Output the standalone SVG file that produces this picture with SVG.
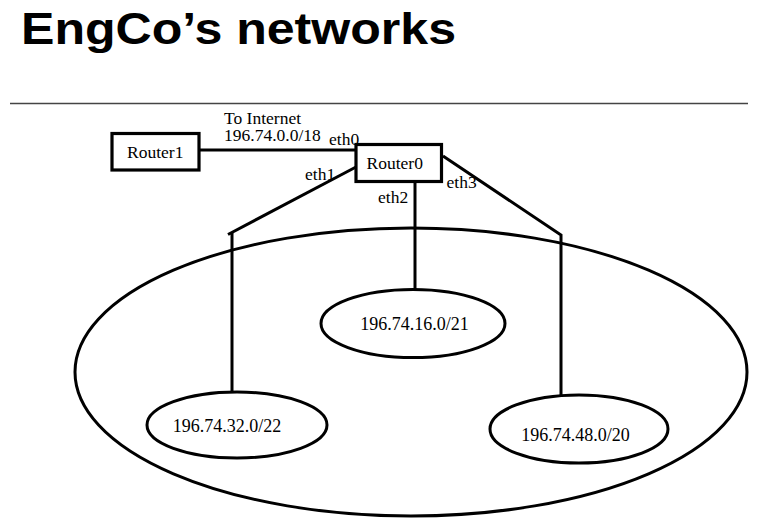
<svg xmlns="http://www.w3.org/2000/svg" width="763" height="520" viewBox="0 0 763 520">
  <style>
    .title { font-family: "Liberation Sans", Arial, sans-serif; font-weight: bold; font-size: 45px; fill: #000; }
    .lbl { font-family: "Liberation Serif", "Times New Roman", serif; font-size: 17.5px; fill: #000; }
    .net { font-family: "Liberation Serif", "Times New Roman", serif; font-size: 18px; fill: #000; }
    .box { fill: #fff; stroke: #000; stroke-width: 3.2; }
    .oval { fill: none; stroke: #000; stroke-width: 3; }
    .wire { fill: none; stroke: #000; stroke-width: 3; }
  </style>
  <rect width="763" height="520" fill="#fff"/>

  <!-- heading and rule -->
  <text class="title" x="21" y="44" textLength="435" lengthAdjust="spacingAndGlyphs">EngCo’s networks</text>
  <line x1="10" y1="103.5" x2="748" y2="103.5" stroke="#444" stroke-width="1.6"/>

  <!-- enclosing network -->
  <g id="engco-net">
    <ellipse class="oval" cx="411" cy="372" rx="336" ry="144" stroke-width="2.6"/>
  </g>

  <!-- connectors -->
  <g id="connectors">
    <line class="wire" x1="200" y1="150" x2="356" y2="150"/>
    <line class="wire" x1="356" y1="167" x2="228" y2="234.5"/>
    <line class="wire" x1="232" y1="233" x2="232" y2="393"/>
    <line class="wire" x1="415" y1="182" x2="415" y2="291"/>
    <polyline class="wire" points="443,156 561,235 561,397"/>
  </g>

  <g id="router1">
    <rect class="box" x="112" y="133.5" width="87" height="36.5"/>
    <text class="lbl" x="127" y="158">Router1</text>
  </g>

  <g id="router0">
    <rect class="box" x="356" y="144.5" width="85.5" height="37"/>
    <text class="lbl" x="366.5" y="169">Router0</text>
  </g>

  <!-- interface labels -->
  <g id="labels">
    <text class="lbl" x="224" y="124">To Internet</text>
    <text class="lbl" x="224" y="141">196.74.0.0/18</text>
    <text class="lbl" x="329" y="145">eth0</text>
    <text class="lbl" x="305" y="180">eth1</text>
    <text class="lbl" x="378" y="203">eth2</text>
    <text class="lbl" x="446.5" y="188">eth3</text>
  </g>

  <g id="subnet-16">
    <ellipse class="oval" cx="413" cy="323.5" rx="92" ry="34"/>
    <text class="net" x="414.5" y="330" text-anchor="middle">196.74.16.0/21</text>
  </g>

  <g id="subnet-32">
    <ellipse class="oval" cx="237" cy="425" rx="90" ry="33"/>
    <text class="net" x="227" y="431.5" text-anchor="middle">196.74.32.0/22</text>
  </g>

  <g id="subnet-48">
    <ellipse class="oval" cx="579" cy="429" rx="89" ry="34"/>
    <text class="net" x="575.5" y="440.5" text-anchor="middle">196.74.48.0/20</text>
  </g>
</svg>
